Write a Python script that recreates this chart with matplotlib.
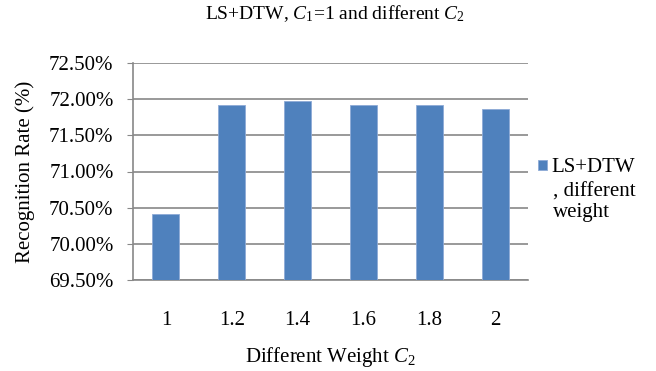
import matplotlib.pyplot as plt
from matplotlib.ticker import FuncFormatter

plt.rcParams["font.family"] = "Liberation Serif"
plt.rcParams["mathtext.fontset"] = "custom"
plt.rcParams["mathtext.rm"] = "Liberation Serif"
plt.rcParams["mathtext.it"] = "Liberation Serif:italic"

weights = ["1", "1.2", "1.4", "1.6", "1.8", "2"]
rates = [70.41, 71.92, 71.97, 71.92, 71.92, 71.87]
series_name = "LS+DTW"
series_name_rest = ", different\nweight"

fig = plt.figure(figsize=(6.56, 3.71), dpi=100)
ax = fig.add_axes([133 / 656, 1 - 280 / 371, 395 / 656, 217 / 371])

x = range(len(weights))
ax.bar(x, rates, width=0.41, color="#4F81BD", edgecolor="#8EAAD6", linewidth=0.6,
       zorder=3, label=series_name)
ax.set_xlim(-0.5, len(weights) - 0.5)
ax.set_ylim(69.5, 72.5)
ax.set_yticks([69.5, 70.0, 70.5, 71.0, 71.5, 72.0, 72.5])
ax.yaxis.set_major_formatter(FuncFormatter(lambda v, p: "%.2f%%" % v))
ax.set_xticks(list(x))
ax.set_xticklabels(weights)

ax.grid(axis="y", color="#888888", linewidth=1.2, zorder=0)
for s in ["top", "right"]:
    ax.spines[s].set_visible(False)
ax.spines["left"].set_color("#888888")
ax.spines["bottom"].set_color("#888888")
ax.spines["left"].set_linewidth(1.2)
ax.spines["bottom"].set_linewidth(1.2)
ax.tick_params(axis="y", length=4, color="#888888", labelsize=15, pad=10)
ax.tick_params(axis="x", length=0, labelsize=15, pad=22)

ax.set_ylabel("Recognition Rate (%)", fontsize=15, labelpad=10)
ax.set_xlabel(r"Different Weight $C_{2}$", fontsize=15, labelpad=11)
fig.text(335 / 656, 1 - 14 / 371, r"LS+DTW, $C_{1}$=1 and different $C_{2}$",
         ha="center", va="center", fontsize=14)

# legend: marker next to the first line only, rest of the name wraps below
fig.legend(loc="center left", bbox_to_anchor=(538 / 656, 1 - 168 / 371), frameon=False,
           fontsize=15, handlelength=0.45, handleheight=0.4, handletextpad=0.2,
           borderpad=0, borderaxespad=0)
fig.text(553 / 656, 1 - 183 / 371, series_name_rest, ha="left", va="top",
         fontsize=15, linespacing=1.1)

fig.savefig("out.png", dpi=100)
